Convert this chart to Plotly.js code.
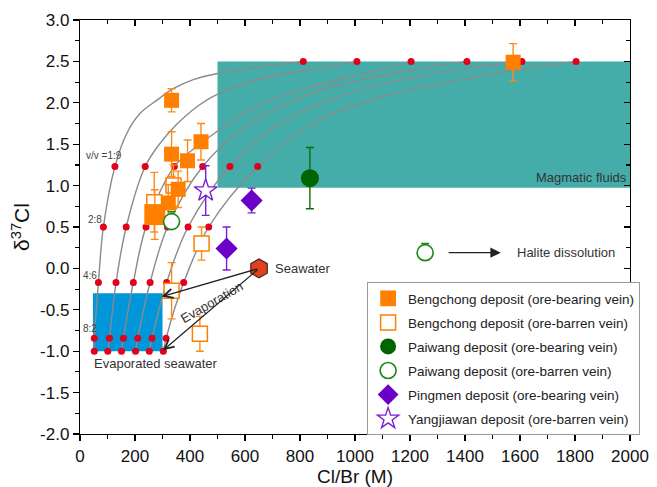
<!DOCTYPE html>
<html>
<head>
<meta charset="utf-8">
<script src="https://cdn.plot.ly/plotly-3.0.1.min.js"></script>
<style>html,body{margin:0;padding:0;background:#fff;}#chart{width:657px;height:487px;}</style>
</head>
<body>
<div id="chart"></div>
<script>
// ---- Mixing-curve red dots (rows of equal mixing ratio) ----
var rowY = [-1.0, -0.845, -0.17, 0.5, 1.23, 2.5];
var dotX1 = [52, 52, 67, 85, 127, 812];
var dotX2 = [101, 107, 131, 168, 237, 1007];
var dotX3 = [151, 158, 194, 240, 343, 1204];
var dotX4 = [202, 210, 255, 318, 446, 1407];
var dotX5 = [252, 262, 315, 393, 545, 1607];
var dotX6 = [303, 313, 377, 468, 646, 1804];

// ---- Mixing curves ----
var c1X = [52, 52, 67, 85, 127, 170, 218, 279, 339, 412, 509, 812];
var c1Y = [-1.0, -0.845, -0.17, 0.5, 1.23, 1.63, 1.87, 2.03, 2.17, 2.28, 2.36, 2.5];
var c2X = [101, 107, 131, 168, 237, 291, 352, 424, 497, 655, 836, 1007];
var c2Y = [-1.0, -0.845, -0.17, 0.5, 1.23, 1.51, 1.74, 1.95, 2.1, 2.29, 2.40, 2.5];
var c3X = [151, 158, 194, 240, 343, 420, 497, 655, 850, 1018, 1204];
var c3Y = [-1.0, -0.845, -0.17, 0.5, 1.23, 1.46, 1.65, 1.98, 2.2, 2.34, 2.5];
var c4X = [202, 210, 255, 318, 446, 606, 848, 1212, 1407];
var c4Y = [-1.0, -0.845, -0.17, 0.5, 1.23, 1.72, 2.12, 2.40, 2.5];
var c5X = [252, 262, 315, 393, 545, 727, 970, 1200, 1455, 1607];
var c5Y = [-1.0, -0.845, -0.17, 0.5, 1.23, 1.75, 2.11, 2.3, 2.44, 2.5];
var c6X = [303, 313, 377, 468, 646, 848, 1091, 1455, 1804];
var c6Y = [-1.0, -0.845, -0.17, 0.5, 1.23, 1.75, 2.07, 2.32, 2.5];

// ---- Samples ----
var bcOreX = [333, 1575, 440, 333, 391, 357, 321, 272];
var bcOreY = [2.03, 2.49, 1.53, 1.38, 1.30, 0.955, 0.79, 0.65];
var bcOreErr = [0.14, 0.225, 0.22, 0.27, 0.25, 0.22, 0.22, 0.3];
var bcOreSize = [15, 15, 15, 15, 15, 15, 15, 21];

var bcBarX = [270, 340, 442, 333, 436];
var bcBarY = [0.80, 1.0, 0.30, -0.27, -0.79];
var bcBarErr = [0.36, 0.25, 0.2, 0.34, 0.21];

var pwOreX = [836], pwOreY = [1.09], pwOreErr = [0.37];
var pwBarX = [333], pwBarY = [0.565], pwBarErrUp = [0.12], pwBarErrDown = [0.0];
var pmX = [624, 533], pmY = [0.82, 0.24], pmErr = [0.15, 0.26];
var yjX = [457], yjY = [0.94], yjErr = [0.3];

var haliteX = [1255], haliteY = [0.19], haliteErrUp = [0.11], haliteErrDown = [0.0];
var seawaterX = [651], seawaterY = [0.0];

var seriesNames = [
  'Bengchong deposit (ore-bearing vein)',
  'Bengchong deposit (ore-barren vein)',
  'Paiwang deposit (ore-bearing vein)',
  'Paiwang deposit (ore-barren vein)',
  'Pingmen deposit (ore-bearing vein)',
  'Yangjiawan deposit (ore-barren vein)'
];
var xTickVals = [0, 200, 400, 600, 800, 1000, 1200, 1400, 1600, 1800, 2000];
var yTickVals = [-2.0, -1.5, -1.0, -0.5, 0.0, 0.5, 1.0, 1.5, 2.0, 2.5, 3.0];

var SANS = '"Liberation Sans", Arial, sans-serif';

var traces = [];
var curves = [[c1X, c1Y], [c2X, c2Y], [c3X, c3Y], [c4X, c4Y], [c5X, c5Y], [c6X, c6Y]];
curves.forEach(function (c) {
  traces.push({x: c[0], y: c[1], mode: 'lines', type: 'scatter', showlegend: false, hoverinfo: 'skip',
    line: {color: '#8a8a8a', width: 1.4, shape: 'spline', smoothing: 1}});
});
var dotSets = [dotX1, dotX2, dotX3, dotX4, dotX5, dotX6];
var allDotX = [], allDotY = [];
dotSets.forEach(function (d) { d.forEach(function (v, i) { allDotX.push(v); allDotY.push(rowY[i]); }); });
traces.push({x: allDotX, y: allDotY, mode: 'markers', type: 'scatter', showlegend: false,
  marker: {color: '#e3001b', size: 7, opacity: 1, line: {width: 0}}});

function errY(arr, col) { return {type: 'data', array: arr, visible: true, color: col, thickness: 1.4, width: 4}; }
function errYAsym(up, down, col) {
  return {type: 'data', symmetric: false, array: up, arrayminus: down, visible: true, color: col, thickness: 1.4, width: 4};
}

traces.push({x: bcBarX, y: bcBarY, name: seriesNames[1], legendrank: 2, legendgroup: 'g2', mode: 'markers', type: 'scatter',
  error_y: errY(bcBarErr, '#ff8a1c'),
  marker: {symbol: 'square', size: 15, opacity: 1, color: '#ffffff', line: {color: '#ff7f00', width: 1.5}}});
traces.push({x: bcOreX, y: bcOreY, name: seriesNames[0], legendrank: 1, legendgroup: 'g1', mode: 'markers', type: 'scatter',
  error_y: errY(bcOreErr, '#ff8a1c'),
  marker: {symbol: 'square', size: bcOreSize, opacity: 1, color: '#ff7f00', line: {width: 0}}});
traces.push({x: pwOreX, y: pwOreY, name: seriesNames[2], legendrank: 3, legendgroup: 'g3', mode: 'markers', type: 'scatter',
  error_y: errY(pwOreErr, '#0a6e0a'),
  marker: {symbol: 'circle', size: 18, opacity: 1, color: '#006400', line: {width: 0}}});
traces.push({x: pwBarX, y: pwBarY, name: seriesNames[3], legendrank: 4, legendgroup: 'g4', mode: 'markers', type: 'scatter',
  error_y: errYAsym(pwBarErrUp, pwBarErrDown, '#168a16'),
  marker: {symbol: 'circle', size: 16, opacity: 1, color: '#ffffff', line: {color: '#168a16', width: 1.6}}});
traces.push({x: pmX, y: pmY, name: seriesNames[4], legendrank: 5, legendgroup: 'g5', mode: 'markers', type: 'scatter',
  error_y: errY(pmErr, '#7a1fd6'),
  marker: {symbol: 'diamond', size: 17, opacity: 1, color: '#6a00c8', line: {width: 0}}});
traces.push({x: yjX, y: yjY, name: seriesNames[5], legendrank: 6, legendgroup: 'g6', mode: 'markers', type: 'scatter',
  error_y: errY(yjErr, '#7a1fd6'),
  marker: {symbol: 'star', size: 17, opacity: 1, color: '#ffffff', line: {color: '#7a1fd6', width: 1.4}}});
traces.push({x: haliteX, y: haliteY, showlegend: false, mode: 'markers', type: 'scatter',
  error_y: errYAsym(haliteErrUp, haliteErrDown, '#168a16'),
  marker: {symbol: 'circle', size: 16, opacity: 1, color: '#ffffff', line: {color: '#168a16', width: 1.6}}});
traces.push({x: seawaterX, y: seawaterY, showlegend: false, mode: 'markers', type: 'scatter',
  marker: {symbol: 'hexagon', size: 19, opacity: 1, color: '#e2401d', line: {color: '#3a2a2a', width: 1.2}}});
// mirror axes (inward ticks)
traces.push({x: [0], y: [3], xaxis: 'x2', yaxis: 'y2', mode: 'markers', showlegend: false, hoverinfo: 'skip',
  marker: {size: 1, opacity: 0}});

var annFont = {family: SANS, size: 13, color: '#333333'};
var smallFont = {family: SANS, size: 10, color: '#444444'};

var layout = {
  width: 657, height: 487,
  margin: {l: 80, r: 27, t: 20, b: 53},
  paper_bgcolor: '#ffffff', plot_bgcolor: '#ffffff',
  showlegend: true,
  legend: {x: 0.522, y: 0.367, xanchor: 'left', yanchor: 'top', bgcolor: '#ffffff', bordercolor: '#9a9a9a', borderwidth: 1,
    font: {family: SANS, size: 13.5, color: '#222222'}, tracegroupgap: 3.5, itemwidth: 30},
  xaxis: {range: [0, 2000], tickvals: xTickVals, ticktext: xTickVals.map(String), ticks: 'outside', ticklen: 6, tickwidth: 1.2,
    tickcolor: '#000', showline: true, linecolor: '#000', linewidth: 1.2, showgrid: false, zeroline: false,
    tickfont: {family: SANS, size: 17, color: '#111'},
    minor: {dtick: 100, ticks: 'outside', ticklen: 4, tickwidth: 1.2, tickcolor: '#000', showgrid: false},
    title: {text: 'Cl/Br (M)', font: {family: SANS, size: 19, color: '#111'}, standoff: 0}},
  yaxis: {range: [-2.0, 3.0], tickvals: yTickVals, ticktext: yTickVals.map(function (v) { return v.toFixed(1); }),
    ticks: 'outside', ticklen: 6, tickwidth: 1.2, tickcolor: '#000', showline: true, linecolor: '#000', linewidth: 1.2,
    showgrid: false, zeroline: false, tickfont: {family: SANS, size: 17, color: '#111'},
    minor: {dtick: 0.25, ticks: 'outside', ticklen: 4, tickwidth: 1.2, tickcolor: '#000', showgrid: false},
    title: {text: 'δ<sup>37</sup>Cl', font: {family: SANS, size: 21, color: '#111'}, standoff: 4}},
  xaxis2: {range: [0, 2000], overlaying: 'x', side: 'top', anchor: 'y2', tickvals: xTickVals, showticklabels: false, ticks: 'inside', ticklen: 6,
    tickwidth: 1.2, tickcolor: '#000', showline: true, linecolor: '#000', linewidth: 1.2, showgrid: false, zeroline: false,
    minor: {dtick: 100, ticks: 'inside', ticklen: 4, tickwidth: 1.2, tickcolor: '#000', showgrid: false}},
  yaxis2: {range: [-2.0, 3.0], overlaying: 'y', side: 'right', anchor: 'x2', tickvals: yTickVals, showticklabels: false, ticks: 'inside', ticklen: 6,
    tickwidth: 1.2, tickcolor: '#000', showline: true, linecolor: '#000', linewidth: 1.2, showgrid: false, zeroline: false,
    minor: {dtick: 0.25, ticks: 'inside', ticklen: 4, tickwidth: 1.2, tickcolor: '#000', showgrid: false}},
  shapes: [
    {type: 'rect', xref: 'x', yref: 'y', x0: 500, x1: 2000, y0: 0.975, y1: 2.5, fillcolor: '#45ada9', line: {width: 0}, layer: 'below'},
    {type: 'rect', xref: 'x', yref: 'y', x0: 47, x1: 300, y0: -1.0, y1: -0.30, fillcolor: '#0097da', line: {width: 0}, layer: 'below'}
  ],
  annotations: [
    {x: 1995, y: 1.1, xref: 'x', yref: 'y', text: 'Magmatic fluids', showarrow: false, xanchor: 'right', font: annFont},
    {x: 1582, y: 0.19, xref: 'x', yref: 'y', text: 'Halite dissolution', showarrow: false, xanchor: 'left', font: annFont},
    {x: 1530, y: 0.19, ax: 1335, ay: 0.19, xref: 'x', yref: 'y', axref: 'x', ayref: 'y', text: '', showarrow: true,
      arrowhead: 2, arrowsize: 1.6, arrowwidth: 1.3, arrowcolor: '#222'},
    {x: 700, y: 0.0, xref: 'x', yref: 'y', text: 'Seawater', showarrow: false, xanchor: 'left', font: annFont},
    {x: 276, y: -1.15, xref: 'x', yref: 'y', text: 'Evaporated seawater', showarrow: false, xanchor: 'center', font: annFont},
    {x: 478, y: -0.41, xref: 'x', yref: 'y', text: 'Evaporation', showarrow: false, textangle: -30, font: annFont},
    {x: 297, y: -0.34, ax: 651, ay: 0.0, xref: 'x', yref: 'y', axref: 'x', ayref: 'y', text: '', showarrow: true,
      arrowhead: 5, arrowsize: 1.4, arrowwidth: 1.3, arrowcolor: '#222', standoff: 0, startstandoff: 0},
    {x: 302, y: -0.99, ax: 651, ay: 0.0, xref: 'x', yref: 'y', axref: 'x', ayref: 'y', text: '', showarrow: true,
      arrowhead: 5, arrowsize: 1.4, arrowwidth: 1.3, arrowcolor: '#222', standoff: 0, startstandoff: 0},
    {x: 88, y: 1.36, xref: 'x', yref: 'y', text: 'v/v =1:9', showarrow: false, font: smallFont},
    {x: 55, y: 0.59, xref: 'x', yref: 'y', text: '2:8', showarrow: false, font: smallFont},
    {x: 38, y: -0.08, xref: 'x', yref: 'y', text: '4:6', showarrow: false, font: smallFont},
    {x: 38, y: -0.73, xref: 'x', yref: 'y', text: '8:2', showarrow: false, font: smallFont}
  ]
};

Plotly.newPlot('chart', traces, layout, {displayModeBar: false, staticPlot: true});
</script>
</body>
</html>
